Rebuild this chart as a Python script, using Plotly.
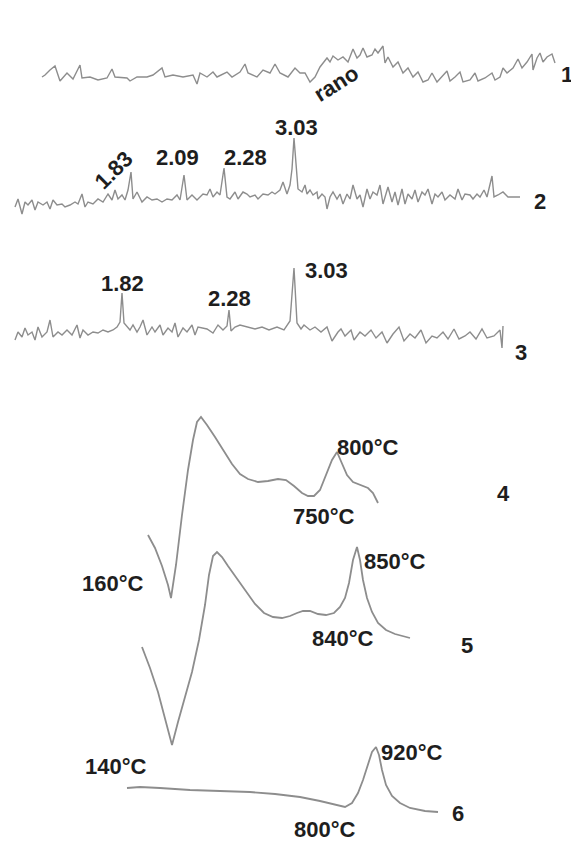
import plotly.graph_objects as go

# ---- XRD pattern 1 (sample 1) ----
xrd1_x = [42, 45, 50, 55, 60, 67, 73, 80, 82, 90, 98, 107, 112, 115, 127, 130, 137, 147, 153, 162, 165,
          173, 183, 193, 197, 200, 207, 213, 217, 227, 232, 240, 245, 248, 257, 263, 270, 275, 280, 288,
          295, 300, 305, 310, 315, 320, 327, 330, 333, 338, 343, 348, 353, 357, 360, 363, 367, 372, 375,
          378, 383, 385, 388, 393, 398, 403, 408, 413, 418, 423, 428, 432, 437, 442, 447, 450, 455, 460,
          463, 470, 475, 478, 485, 492, 495, 500, 503, 507, 513, 518, 522, 527, 532, 533, 537, 540, 543,
          547, 552, 555]
xrd1_y = [77, 75, 70, 66, 81, 73, 79, 65, 78, 77, 80, 78, 69, 77, 78, 81, 77, 77, 75, 68, 77,
          75, 77, 75, 84, 73, 77, 72, 77, 72, 77, 72, 64, 73, 77, 70, 73, 64, 73, 77,
          68, 73, 73, 82, 77, 67, 58, 62, 56, 60, 57, 62, 49, 58, 55, 48, 57, 55, 49,
          53, 46, 63, 57, 67, 62, 73, 68, 77, 72, 82, 80, 73, 82, 77, 71, 81, 77, 72,
          82, 80, 73, 81, 78, 73, 80, 77, 68, 73, 68, 59, 68, 62, 54, 70, 58, 53, 62,
          57, 54, 63]

# ---- XRD pattern 2 ----
xrd2_x = [15, 18, 22, 25, 28, 32, 35, 38, 43, 47, 50, 53, 57, 62, 65, 70, 75, 78, 82, 85, 88, 93, 98,
          103, 108, 112, 115, 118, 122, 125, 128, 131, 133, 137, 142, 147, 152, 157, 162, 167, 172, 177,
          180, 184, 187, 192, 197, 203, 207, 210, 213, 217, 220, 224, 227, 230, 235, 238, 243, 247, 250,
          255, 258, 263, 268, 272, 275, 280, 283, 287, 290, 292, 294, 297, 298, 302, 305, 307, 310, 313,
          317, 318, 322, 325, 327, 330, 333, 337, 340, 343, 347, 350, 353, 357, 360, 363, 367, 370, 373,
          377, 380, 383, 388, 392, 395, 398, 402, 405, 408, 412, 415, 418, 422, 425, 428, 432, 435, 438,
          442, 445, 450, 455, 458, 462, 465, 470, 473, 477, 480, 484, 487, 492, 494, 498, 503, 508, 520]
xrd2_y = [207, 199, 214, 202, 205, 200, 210, 202, 205, 202, 209, 200, 205, 204, 207, 205, 202, 204, 194,
          207, 202, 204, 199, 202, 194, 200, 190, 199, 195, 200, 190, 172, 199, 192, 202, 197, 200, 199,
          202, 199, 200, 195, 200, 175, 200, 195, 200, 194, 195, 189, 197, 192, 195, 168, 197, 199, 192,
          199, 192, 194, 197, 195, 199, 194, 195, 192, 194, 190, 182, 194, 185, 169, 138, 172, 189, 192,
          185, 194, 190, 195, 192, 199, 194, 197, 209, 197, 192, 199, 194, 204, 194, 199, 185, 199, 195,
          207, 189, 199, 192, 195, 185, 204, 187, 202, 192, 205, 189, 204, 194, 199, 190, 202, 192, 195,
          189, 204, 194, 197, 192, 200, 195, 199, 189, 200, 194, 195, 199, 194, 197, 190, 197, 176, 197,
          195, 192, 197, 197]

# ---- XRD pattern 3 ----
xrd3_x = [15, 18, 22, 25, 28, 32, 35, 38, 42, 47, 50, 53, 58, 62, 67, 72, 77, 80, 83, 88, 93, 98, 103,
          108, 113, 117, 120, 122, 124, 127, 130, 133, 137, 140, 143, 147, 152, 155, 160, 163, 168, 172,
          175, 178, 183, 187, 192, 195, 198, 207, 213, 218, 223, 227, 229, 231, 235, 240, 247, 255, 262,
          269, 277, 284, 290, 294, 297, 301, 304, 310, 315, 321, 327, 332, 338, 341, 345, 351, 354, 360,
          365, 371, 376, 382, 387, 393, 399, 404, 410, 415, 421, 426, 432, 437, 443, 448, 454, 459, 465,
          470, 476, 482, 487, 494, 500, 502, 503]
xrd3_y = [340, 332, 337, 328, 335, 332, 340, 327, 337, 332, 320, 337, 332, 335, 330, 335, 325, 338, 330,
          335, 332, 333, 330, 332, 330, 327, 322, 293, 323, 327, 330, 325, 332, 327, 320, 335, 327, 332,
          325, 335, 328, 332, 323, 337, 328, 332, 325, 335, 327, 329, 333, 325, 330, 326, 310, 331, 327,
          325, 327, 329, 327, 330, 327, 330, 321, 268, 323, 329, 325, 330, 327, 332, 327, 341, 332, 329,
          336, 330, 340, 332, 336, 330, 338, 332, 343, 334, 327, 341, 334, 338, 330, 343, 336, 338, 332,
          339, 329, 339, 336, 332, 339, 329, 338, 336, 330, 348, 326]

# ---- DTA curve 4 ----
dta4_x = [148, 155, 162, 168, 171, 176, 182, 188, 193, 197, 201, 207, 215, 223, 232, 240, 248, 258,
          268, 278, 286, 294, 302, 308, 314, 320, 326, 332, 337, 342, 347, 353, 360, 368, 373, 378]
dta4_y = [535, 548, 566, 585, 598, 565, 515, 470, 440, 422, 417, 425, 437, 450, 464, 474, 479, 482,
          481, 479, 480, 486, 493, 496, 496, 490, 475, 460, 452, 463, 475, 482, 485, 488, 493, 503]

# ---- DTA curve 5 ----
dta5_x = [142, 150, 158, 165, 172, 178, 185, 192, 199, 205, 209, 213, 217, 222, 228, 236, 245, 255,
          264, 273, 282, 290, 297, 303, 310, 318, 326, 334, 340, 345, 349, 353, 357, 360, 363, 367,
          372, 378, 386, 395, 410]
dta5_y = [647, 668, 692, 718, 745, 722, 698, 672, 640, 605, 575, 556, 552, 557, 566, 577, 590, 604,
          613, 617, 618, 616, 613, 611, 611, 614, 615, 613, 607, 598, 583, 560, 547, 560, 580, 598,
          612, 623, 630, 634, 638]

# ---- DTA curve 6 ----
dta6_x = [127, 140, 160, 190, 220, 250, 275, 300, 320, 335, 345, 352, 358, 363, 368, 372, 376, 379,
          382, 386, 392, 400, 410, 425, 438]
dta6_y = [788, 787, 788, 790, 791, 792, 794, 797, 801, 805, 807, 803, 793, 780, 765, 752, 747, 755,
          770, 785, 796, 803, 808, 811, 812]

# ---- annotations: text, x, y, angle ----
label_text = ["1", "2", "3", "4", "5", "6",
              "rano", "1.83", "2.09", "2.28", "3.03", "1.82", "2.28", "3.03",
              "160°C", "800°C", "750°C", "140°C", "850°C", "840°C", "920°C", "800°C"]
label_x = [567, 540, 521, 503, 467, 458,
           336, 113, 177, 245, 296, 122, 229, 326,
           113, 368, 324, 116, 395, 343, 412, 325]
label_y = [74, 201, 352, 493, 645, 813,
           83, 170, 157, 157, 127, 283, 298, 270,
           583, 447, 516, 766, 561, 638, 752, 829]
label_angle = [0, 0, 0, 0, 0, 0,
               -32, -45, 0, 0, 0, 0, 0, 0,
               0, 0, 0, 0, 0, 0, 0, 0]

LINE_COLOR = "#8d8d8d"
TEXT_COLOR = "#1e1e1e"

# the page body has an 8px default margin: size the figure so that data units equal screen pixels
OFFSET = 8
W, H = 579, 858

fig = go.Figure()
for xs, ys in [(xrd1_x, xrd1_y), (xrd2_x, xrd2_y), (xrd3_x, xrd3_y)]:
    fig.add_trace(go.Scatter(x=xs, y=ys, mode="lines",
                             line=dict(color=LINE_COLOR, width=1.4), hoverinfo="skip"))
for xs, ys in [(dta4_x, dta4_y), (dta5_x, dta5_y), (dta6_x, dta6_y)]:
    fig.add_trace(go.Scatter(x=xs, y=ys, mode="lines",
                             line=dict(color=LINE_COLOR, width=1.8), hoverinfo="skip"))

for t, x, y, a in zip(label_text, label_x, label_y, label_angle):
    fig.add_annotation(x=x, y=y, text=f"<b>{t}</b>", showarrow=False, textangle=a,
                       font=dict(family="Liberation Sans, Arial, sans-serif", size=22, color=TEXT_COLOR),
                       xanchor="center", yanchor="middle")

fig.update_layout(
    width=W - OFFSET, height=H - OFFSET,
    margin=dict(l=0, r=0, t=0, b=0),
    paper_bgcolor="white", plot_bgcolor="white",
    showlegend=False,
    xaxis=dict(range=[OFFSET, W], visible=False, fixedrange=True),
    yaxis=dict(range=[H, OFFSET], visible=False, fixedrange=True),
)
fig.write_html("out.html")
